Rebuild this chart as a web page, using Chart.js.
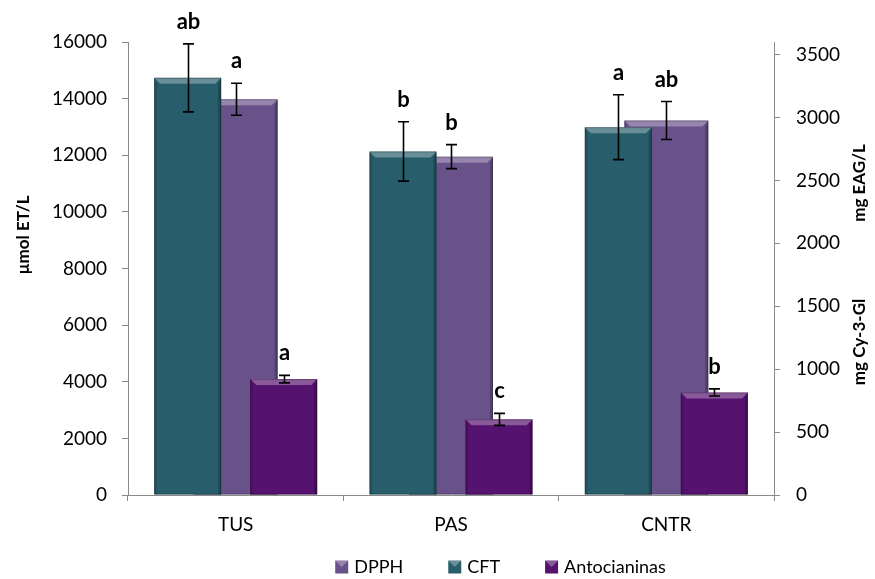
<!DOCTYPE html>
<html>
<head>
<meta charset="utf-8">
<script src="https://cdn.jsdelivr.net/npm/chart.js@4.4.1/dist/chart.umd.min.js"></script>
<style>
  html, body { margin: 0; padding: 0; background: #fff; }
</style>
</head>
<body>
<canvas id="grafico" width="875" height="579"></canvas>
<script>
const categorias = ['TUS', 'PAS', 'CNTR'];

const dpph = [13980, 11950, 13225];
const dpphErro = [565, 424, 671];
const dpphLetras = ['a', 'b', 'ab'];

const cft = [3315, 2730, 2923];
const cftErro = [270, 236, 258];
const cftLetras = ['ab', 'b', 'a'];

const antocianinas = [921, 601, 815];
const antocianinasErro = [30, 48, 28];
const antocianinasLetras = ['a', 'c', 'b'];

const ticksEsquerda = [0, 2000, 4000, 6000, 8000, 10000, 12000, 14000, 16000];
const ticksDireita = [0, 500, 1000, 1500, 2000, 2500, 3000, 3500];

const cores = { dpph: '#69528a', cft: '#285d6b', anto: '#56126f' };
const fonte = 'Lato, "Open Sans", sans-serif';
const cinza = '#8a8a8a';

// bisel dos retangulos (efeito do excel)
const bisel = {
  id: 'bisel',
  afterDatasetDraw(chart, args) {
    const ctx = chart.ctx;
    args.meta.data.forEach(bar => {
      const { x, y, base, width } = bar.getProps(['x', 'y', 'base', 'width'], true);
      const l = x - width / 2, r = x + width / 2, t = y, b = base, d = 6;
      ctx.save();
      ctx.fillStyle = 'rgba(255,255,255,0.3)';
      ctx.beginPath();
      ctx.moveTo(l, t); ctx.lineTo(r, t); ctx.lineTo(r - d, t + d); ctx.lineTo(l + d, t + d);
      ctx.closePath(); ctx.fill();
      ctx.fillStyle = 'rgba(0,0,0,0.10)';
      ctx.beginPath();
      ctx.moveTo(l, t); ctx.lineTo(l + 3, t + d); ctx.lineTo(l + 3, b); ctx.lineTo(l, b);
      ctx.closePath(); ctx.fill();
      ctx.fillStyle = 'rgba(0,0,0,0.22)';
      ctx.beginPath();
      ctx.moveTo(r, t); ctx.lineTo(r - 3, t + d); ctx.lineTo(r - 3, b); ctx.lineTo(r, b);
      ctx.closePath(); ctx.fill();
      ctx.strokeStyle = 'rgba(0,0,0,0.25)';
      ctx.lineWidth = 1;
      ctx.strokeRect(l + 0.5, t + 0.5, width - 1, b - t - 1);
      ctx.restore();
    });
  }
};

// barras de erro e letras
const erros = {
  id: 'erros',
  afterDatasetsDraw(chart) {
    const ctx = chart.ctx;
    chart.data.datasets.forEach((ds, i) => {
      const meta = chart.getDatasetMeta(i);
      const escala = chart.scales[meta.yAxisID];
      meta.data.forEach((bar, j) => {
        const v = ds.data[j], e = ds.erro[j];
        const topo = escala.getPixelForValue(v + e);
        const fundo = escala.getPixelForValue(v - e);
        const x = Math.round(bar.x) + 0.5;
        ctx.save();
        ctx.strokeStyle = '#000';
        ctx.lineWidth = 1.6;
        ctx.beginPath();
        ctx.moveTo(x, topo); ctx.lineTo(x, fundo);
        ctx.moveTo(x - 5.5, topo); ctx.lineTo(x + 5.5, topo);
        ctx.moveTo(x - 5.5, fundo); ctx.lineTo(x + 5.5, fundo);
        ctx.stroke();
        ctx.fillStyle = '#000';
        ctx.font = 'bold 22px ' + fonte;
        ctx.textAlign = 'center';
        ctx.textBaseline = 'alphabetic';
        ctx.fillText(ds.letras[j], x, topo - 15);
        ctx.restore();
      });
    });
  }
};

// titulos dos eixos e legenda
const extras = {
  id: 'extras',
  afterDraw(chart) {
    const ctx = chart.ctx;
    ctx.save();
    ctx.fillStyle = '#000';
    ctx.font = 'bold 17px ' + fonte;
    ctx.textAlign = 'center';
    ctx.textBaseline = 'middle';
    [['µmol ET/L', 24, 235], ['mg EAG/L', 860, 183], ['mg Cy-3-Gl', 860, 342]].forEach(([txt, x, y]) => {
      ctx.save();
      ctx.translate(x, y);
      ctx.rotate(-Math.PI / 2);
      ctx.fillText(txt, 0, 0);
      ctx.restore();
    });

    ctx.font = '18px ' + fonte;
    ctx.textAlign = 'left';
    const itens = chart.data.datasets.map(ds => ({ txt: ds.label, cor: ds.backgroundColor }));
    const caixa = 13, gap = 45;
    const larg = itens.map(it => caixa + 6 + ctx.measureText(it.txt).width);
    const total = larg.reduce((a, b) => a + b, 0) + gap * (itens.length - 1);
    let x = 500.5 - total / 2;
    const yc = 567;
    itens.forEach((it, k) => {
      ctx.fillStyle = it.cor;
      ctx.fillRect(x, yc - 6.5, caixa, caixa);
      ctx.fillStyle = 'rgba(255,255,255,0.3)';
      ctx.beginPath();
      ctx.moveTo(x, yc - 6.5); ctx.lineTo(x + caixa, yc - 6.5); ctx.lineTo(x + caixa / 2, yc);
      ctx.closePath(); ctx.fill();
      ctx.fillStyle = '#000';
      ctx.fillText(it.txt, x + caixa + 6, yc);
      x += larg[k] + gap;
    });
    ctx.restore();
  }
};

const fonteTick = { family: fonte, size: 19 };
const semMilhar = v => String(v);

new Chart(document.getElementById('grafico'), {
  type: 'bar',
  data: {
    labels: categorias,
    datasets: [
      {
        label: 'DPPH', data: dpph, erro: dpphErro, letras: dpphLetras,
        backgroundColor: cores.dpph, yAxisID: 'y', order: 1, grouped: false,
        categoryPercentage: 1, barPercentage: 0.39
      },
      {
        label: 'CFT', data: cft, erro: cftErro, letras: cftLetras,
        backgroundColor: cores.cft, yAxisID: 'y1', order: 0,
        categoryPercentage: 0.892, barPercentage: 0.698
      },
      {
        label: 'Antocianinas', data: antocianinas, erro: antocianinasErro, letras: antocianinasLetras,
        backgroundColor: cores.anto, yAxisID: 'y1', order: 0,
        categoryPercentage: 0.892, barPercentage: 0.698
      }
    ]
  },
  options: {
    responsive: false,
    animation: false,
    devicePixelRatio: 1,
    layout: { padding: { top: 42, left: 0, right: 0, bottom: 0 } },
    plugins: { legend: { display: false }, tooltip: { enabled: false } },
    scales: {
      x: {
        position: 'bottom',
        grid: { offset: true, drawOnChartArea: false, tickLength: 6, color: cinza },
        border: { color: cinza },
        ticks: { font: fonteTick, color: '#000', padding: 12 },
        afterFit: s => { s.height = 84; }
      },
      y: {
        position: 'left', min: 0, max: 16000,
        afterBuildTicks: s => { s.ticks = ticksEsquerda.map(v => ({ value: v })); },
        grid: { drawOnChartArea: false, tickLength: 6, color: cinza },
        border: { color: cinza },
        ticks: { font: fonteTick, color: '#000', padding: 15, callback: semMilhar },
        afterFit: s => { s.width = 128; }
      },
      y1: {
        position: 'right', min: 0, max: 3600,
        afterBuildTicks: s => { s.ticks = ticksDireita.map(v => ({ value: v })); },
        grid: { drawOnChartArea: false, tickLength: 6, color: cinza },
        border: { color: cinza },
        ticks: { font: fonteTick, color: '#000', padding: 16, callback: semMilhar },
        afterFit: s => { s.width = 101; }
      }
    }
  },
  plugins: [bisel, erros, extras]
});
</script>
</body>
</html>
